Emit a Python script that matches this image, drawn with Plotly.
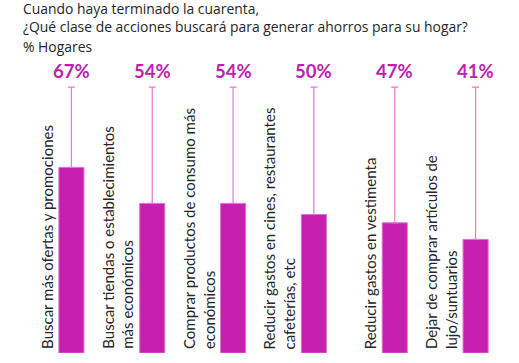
import plotly.graph_objects as go

categories = [
    "Buscar más ofertas y promociones",
    "Buscar tiendas o establecimientos<br>más económicos",
    "Comprar productos de consumo más<br>económicos",
    "Reducir gastos en cines, restaurantes<br>cafeterías, etc",
    "Reducir gastos en vestimenta",
    "Dejar de comprar artículos de<br>lujo/suntuarios",
]
values = [67, 54, 54, 50, 47, 41]
value_labels = ["67%", "54%", "54%", "50%", "47%", "41%"]
line_top = 96

title_text = "Cuando haya terminado la cuarenta,<br>¿Qué clase de acciones buscará para generar ahorros para su hogar?"
subtitle_text = "% Hogares"

BAR = "#C71FAE"
LINE = "#E47AD6"

W, H = 519, 363
ml, mr, mt, mb = 31, 3, 76, 10
pw, ph = W - ml - mr, H - mt - mb

x = list(range(len(values)))

fig = go.Figure()
fig.add_trace(go.Bar(
    x=x, y=values, width=0.31,
    marker=dict(color=BAR, line=dict(color="#E070D2", width=1)),
    error_y=dict(type="data", symmetric=False,
                 array=[line_top - v for v in values],
                 arrayminus=[0] * len(values),
                 color=LINE, thickness=1.2, width=3.5),
    hoverinfo="skip",
))

annotations = []
for i, (c, lab) in enumerate(zip(categories, value_labels)):
    annotations.append(dict(
        x=i, y=line_top, xref="x", yref="y", text=lab, showarrow=False,
        xanchor="center", yanchor="bottom", yshift=3,
        font=dict(family="Lato", size=18.5, color="#C020AE", weight="bold"),
    ))
    annotations.append(dict(
        x=i - 0.155, y=0, xref="x", yref="y", text=c, showarrow=False,
        textangle=-90, xanchor="right", yanchor="bottom", align="left",
        xshift=-1, yshift=2,
        font=dict(family="Lato", size=15, color="#262626"),
    ))

for t, cy in [(title_text, 17.5), (subtitle_text, 46.5)]:
    annotations.append(dict(
        x=(21 - ml) / pw, y=(H - mb - cy) / ph, xref="paper", yref="paper",
        text=t, showarrow=False, xanchor="left", yanchor="middle", align="left",
        font=dict(family="Open Sans", size=13.9, color="#262626"),
    ))

fig.update_layout(
    width=W, height=H,
    margin=dict(l=ml, r=mr, t=mt, b=mb),
    paper_bgcolor="white", plot_bgcolor="white",
    showlegend=False,
    xaxis=dict(range=[-0.5, 5.5], visible=False),
    yaxis=dict(range=[0, 100], visible=False),
    annotations=annotations,
)

fig.write_html("out.html", config={"displayModeBar": False},
               post_script="document.body.style.margin='0';document.body.style.overflow='hidden';")
